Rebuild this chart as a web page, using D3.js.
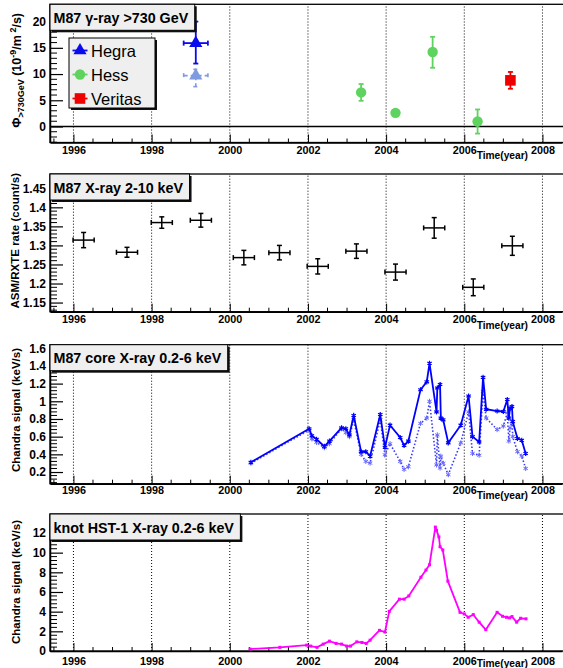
<!DOCTYPE html>
<html><head><meta charset="utf-8">
<script src="https://cdn.jsdelivr.net/npm/d3@7"></script>
<style>
body{margin:0;background:#fff;}
svg{display:block;font-family:"Liberation Sans",Arial,Helvetica,sans-serif;}
</style></head>
<body>
<svg id="c" width="563" height="668"></svg>
<script>
// ---------------- DATA ----------------
const yearTicks = [1996, 1998, 2000, 2002, 2004, 2006, 2008];

// Panel 1: M87 gamma-ray >730 GeV
const hegraX = [1999.13], hegraY = [15.9], hegraErrUp = [4.1], hegraErrDn = [3.9], hegraXErr = [0.31];
const hegraAltX = [1999.13], hegraAltY = [9.7], hegraAltErrUp = [1.2], hegraAltErrDn = [2.1], hegraAltXErr = [0.31];
const hessX = [2003.36, 2004.24, 2005.19, 2006.34];
const hessY = [6.5, 2.6, 14.2, 0.95];
const hessErrUp = [1.6, 0.4, 2.9, 2.3];
const hessErrDn = [1.6, 0.4, 3.0, 2.3];
const veritasX = [2007.18], veritasY = [8.8], veritasErr = [1.6];
const p1Ticks = [0, 5, 10, 15, 20];
const legendLabels = ["Hegra", "Hess", "Veritas"];

// Panel 2: ASM/RXTE 2-10 keV
const asmX = [1996.26, 1997.37, 1998.26, 1999.26, 2000.36, 2001.27, 2002.25, 2003.24, 2004.24, 2005.23, 2006.23, 2007.23];
const asmY = [1.314, 1.282, 1.360, 1.366, 1.268, 1.281, 1.245, 1.285, 1.230, 1.346, 1.190, 1.299];
const asmErr = [0.020, 0.013, 0.015, 0.018, 0.019, 0.019, 0.020, 0.019, 0.021, 0.027, 0.022, 0.025];
const asmXErr = 0.27;
const p2Ticks = [1.15, 1.2, 1.25, 1.3, 1.35, 1.4, 1.45];

// Panel 3: Chandra core 0.2-6 keV (solid and dotted series)
const coreX = [2000.54, 2002.03, 2002.10, 2002.22, 2002.42, 2002.55, 2002.86, 2002.97, 2003.06, 2003.17, 2003.36, 2003.48, 2003.59, 2003.85, 2003.97, 2004.10, 2004.36, 2004.46, 2004.57, 2004.88, 2005.04, 2005.11, 2005.29, 2005.31, 2005.38, 2005.40, 2005.46, 2005.59, 2005.91, 2006.11, 2006.21, 2006.38, 2006.48, 2006.56, 2006.84, 2007.00, 2007.10, 2007.14, 2007.17, 2007.22, 2007.24, 2007.36, 2007.47, 2007.57];
const coreSolid = [0.31, 0.69, 0.61, 0.57, 0.49, 0.55, 0.70, 0.69, 0.62, 0.84, 0.43, 0.43, 0.38, 0.85, 0.48, 0.73, 0.59, 0.50, 0.55, 1.13, 1.22, 1.43, 0.88, 1.15, 1.19, 0.81, 0.79, 0.53, 0.73, 1.06, 0.60, 0.54, 1.27, 0.91, 0.89, 0.885, 1.02, 0.81, 0.92, 0.94, 0.77, 0.58, 0.56, 0.41];
const coreDotted = [0.30, 0.675, 0.575, 0.535, 0.475, 0.52, 0.69, 0.645, 0.60, 0.79, 0.40, 0.32, 0.30, 0.79, 0.395, 0.52, 0.32, 0.23, 0.26, 0.75, 0.81, 1.00, 0.28, 0.62, 0.245, 0.38, 0.30, 0.17, 0.53, 0.88, 0.41, 0.39, 1.11, 0.81, 0.68, 0.72, 0.87, 0.55, 0.70, 0.77, 0.60, 0.43, 0.38, 0.24];
const p3Ticks = [0.2, 0.4, 0.6, 0.8, 1, 1.2, 1.4, 1.6];

// Panel 4: knot HST-1 0.2-6 keV
const hstX = [2000.52, 2001.28, 2001.97, 2002.07, 2002.23, 2002.39, 2002.55, 2002.72, 2002.86, 2002.99, 2003.09, 2003.25, 2003.38, 2003.49, 2003.59, 2003.83, 2003.97, 2004.08, 2004.34, 2004.46, 2004.58, 2004.89, 2005.02, 2005.11, 2005.26, 2005.29, 2005.35, 2005.38, 2005.45, 2005.58, 2005.89, 2006.00, 2006.10, 2006.23, 2006.38, 2006.55, 2006.84, 2006.98, 2007.08, 2007.16, 2007.22, 2007.34, 2007.44, 2007.58];
const hstY = [0.2, 0.37, 0.6, 0.5, 0.37, 0.7, 1.0, 0.77, 0.7, 0.5, 0.5, 0.93, 0.87, 0.77, 1.1, 2.1, 1.93, 4.03, 5.27, 5.27, 5.6, 7.5, 8.23, 8.77, 12.6, 12.27, 11.6, 10.6, 10.27, 7.1, 3.93, 3.77, 3.43, 3.7, 2.93, 2.17, 3.93, 3.53, 3.43, 3.37, 3.5, 2.93, 3.33, 3.27];
const p4Ticks = [0, 2, 4, 6, 8, 10, 12];

// ---------------- LAYOUT ----------------
const svg = d3.select("#c");
const FONT = '"Liberation Sans",Arial,Helvetica,sans-serif';
const x = d3.scaleLinear().domain([1995.4, 2008.5]).range([50, 562]);

const panels = [
  {top: 4.3, bottom: 142.5, dom: [-3.05, 23.3], ticks: p1Ticks, minorStep: 1, fmt: d3.format("d"), title: "M87 \u03b3-ray >730 GeV", lblOff: 7, timeOff: 12.5, yTitleX: 18, yTitleEnd: 13},
  {top: 174, bottom: 311.7, dom: [1.126, 1.4875], ticks: p2Ticks, minorStep: 0.01, fmt: d => d3.format(".2~f")(d), title: "M87 X-ray 2-10 keV", lblOff: 7.5, timeOff: 13.3, yTitleX: 16, yTitleEnd: 173, yTitle: "ASM/RXTE rate (count/s)"},
  {top: 344.7, bottom: 483.7, dom: [0.068, 1.64], ticks: p3Ticks, minorStep: 0.04, fmt: d => d3.format(".1~f")(d), title: "M87 core X-ray 0.2-6 keV", lblOff: 6.5, timeOff: 11.5, yTitleX: 17, yTitleEnd: 348, yTitle: "Chandra signal (keV/s)"},
  {top: 514, bottom: 651, dom: [0, 13.93], ticks: p4Ticks, minorStep: 0.4, fmt: d3.format("d"), title: "knot HST-1 X-ray 0.2-6 keV", lblOff: 9.5, timeOff: 12.8, yTitleX: 17, yTitleEnd: 520, yTitle: "Chandra signal (keV/s)"}
];

function drawPanel(p) {
  const y = d3.scaleLinear().domain(p.dom).range([p.bottom, p.top]);
  const g = svg.append("g");
  // grid
  g.selectAll("line.grid").data(yearTicks).join("line")
    .attr("x1", d => x(d)).attr("x2", d => x(d))
    .attr("y1", p.bottom).attr("y2", p.top)
    .attr("stroke", "#000").attr("stroke-width", 1).attr("stroke-dasharray", "1,2");
  // frame (right side runs past the picture edge)
  g.append("rect").attr("x", 50).attr("y", p.top).attr("width", 520).attr("height", p.bottom - p.top)
    .attr("fill", "none").attr("stroke", "#000").attr("stroke-width", 1.3);
  // minor y ticks
  const minors = d3.range(Math.ceil(p.dom[0] / p.minorStep) * p.minorStep, p.dom[1], p.minorStep)
    .map(v => +v.toFixed(4)).filter(v => !p.ticks.some(t => Math.abs(t - v) < 1e-6));
  g.selectAll("line.ymin").data(minors).join("line")
    .attr("x1", 50).attr("x2", 57).attr("y1", d => y(d)).attr("y2", d => y(d))
    .attr("stroke", "#000").attr("stroke-width", 1);
  // major y axis
  const ya = g.append("g").attr("transform", "translate(50,0)")
    .call(d3.axisLeft(y).tickValues(p.ticks).tickSizeInner(-13).tickSizeOuter(0).tickPadding(4).tickFormat(p.fmt));
  ya.select(".domain").attr("stroke-width", 1.5);
  ya.selectAll(".tick line").attr("stroke-width", 1.2);
  ya.selectAll("text").attr("font-family", FONT).attr("font-weight", "bold").attr("font-size", 12).attr("fill", "#000");
  // minor x ticks
  const xmin = d3.range(1995.5, 2008.5, 0.5).filter(v => !yearTicks.includes(v));
  g.selectAll("line.xmin").data(xmin).join("line")
    .attr("x1", d => x(d)).attr("x2", d => x(d)).attr("y1", p.bottom).attr("y2", p.bottom - 4)
    .attr("stroke", "#000").attr("stroke-width", 1);
  const xa = g.append("g").attr("transform", `translate(0,${p.bottom})`)
    .call(d3.axisBottom(x).tickValues(yearTicks).tickSizeInner(-8).tickSizeOuter(0).tickPadding(0).tickFormat(d3.format("d")));
  xa.select(".domain").attr("stroke-width", 1.5);
  xa.selectAll("text").attr("font-family", FONT).attr("font-weight", "bold").attr("font-size", 10.8)
    .attr("fill", "#000").attr("dy", null).attr("y", p.lblOff).attr("dominant-baseline", "central");
  g.append("text").attr("x", 528).attr("y", p.bottom + p.timeOff).attr("text-anchor", "end")
    .attr("dominant-baseline", "central")
    .attr("font-family", FONT).attr("font-weight", "bold").attr("font-size", 10.2).text("Time(year)");
  return {g, y};
}

function titleBox(p, text) {
  const g = svg.append("g");
  const t = g.append("text").attr("x", 53.5).attr("y", p.top + 18.5).attr("font-family", FONT)
    .attr("font-weight", "bold").attr("font-size", 14.3).text(text);
  const w = t.node().getComputedTextLength() + 10;
  g.insert("rect", "text").attr("x", 52).attr("y", p.top + 2).attr("width", w).attr("height", 26).attr("fill", "#111");
  g.insert("rect", "text").attr("x", 50).attr("y", p.top).attr("width", w).attr("height", 26)
    .attr("fill", "#efefef").attr("stroke", "#000").attr("stroke-width", 1);
}

function yTitle(p, text) {
  svg.append("text").attr("transform", `translate(${p.yTitleX},${p.yTitleEnd}) rotate(-90)`)
    .attr("text-anchor", "end").attr("dominant-baseline", "middle")
    .attr("font-family", FONT).attr("font-weight", "bold").attr("font-size", 11.5).text(text);
}

function errBar(g, xs, ys, up, dn, xe, y, color, width, dash) {
  const cap = 2.5;
  xs.forEach((xv, i) => {
    const cx = x(xv), cy = y(ys[i]);
    const yt = y(ys[i] + up[i]), yb = y(ys[i] - dn[i]);
    const xl = x(xv - xe[i]), xr = x(xv + xe[i]);
    const segs = [
      [cx, yt, cx, yb], [cx - cap, yt, cx + cap, yt], [cx - cap, yb, cx + cap, yb],
      [xl, cy, xr, cy], [xl, cy - cap, xl, cy + cap], [xr, cy - cap, xr, cy + cap]
    ];
    g.selectAll(null).data(segs).join("line")
      .attr("x1", d => d[0]).attr("y1", d => d[1]).attr("x2", d => d[2]).attr("y2", d => d[3])
      .attr("stroke", color).attr("stroke-width", width).attr("stroke-dasharray", dash || null);
  });
}

// ---------- Panel 1 ----------
{
  const p = panels[0];
  const {g, y} = drawPanel(p);
  g.append("line").attr("x1", 50).attr("x2", 570).attr("y1", y(0)).attr("y2", y(0)).attr("stroke", "#000").attr("stroke-width", 1.5);
  const blue = "#0a0aee", lblue = "#7f9be0", green = "#5fd35f", red = "#ee0000";
  errBar(g, hegraAltX, hegraAltY, hegraAltErrUp, hegraAltErrDn, hegraAltXErr, y, lblue, 1.6, "4,3");
  errBar(g, hegraX, hegraY, hegraErrUp, hegraErrDn, hegraXErr, y, blue, 1.8);
  errBar(g, hessX, hessY, hessErrUp, hessErrDn, hessX.map(() => 0), y, green, 1.8);
  errBar(g, veritasX, veritasY, veritasErr, veritasErr, veritasX.map(() => 0), y, red, 1.8);
  const tri = d3.symbol(d3.symbolTriangle, 75);
  g.selectAll(null).data(hegraAltX).join("path").attr("d", tri)
    .attr("transform", (d, i) => `translate(${x(d)},${y(hegraAltY[i])})`).attr("fill", lblue);
  g.selectAll(null).data(hegraX).join("path").attr("d", tri)
    .attr("transform", (d, i) => `translate(${x(d)},${y(hegraY[i])})`).attr("fill", blue);
  g.selectAll(null).data(hessX).join("circle").attr("cx", d => x(d)).attr("cy", (d, i) => y(hessY[i]))
    .attr("r", 5.2).attr("fill", green);
  g.selectAll(null).data(veritasX).join("rect").attr("x", d => x(d) - 5.3).attr("y", (d, i) => y(veritasY[i]) - 5.3)
    .attr("width", 10.6).attr("height", 10.6).attr("fill", red);
  titleBox(p, p.title);
  // y title with sub/superscripts
  const t = svg.append("text").attr("transform", `translate(18,13) rotate(-90)`)
    .attr("text-anchor", "end").attr("dominant-baseline", "middle")
    .attr("font-family", FONT).attr("font-weight", "bold").attr("font-size", 12.5);
  t.append("tspan").text("\u03a6");
  t.append("tspan").attr("font-size", 9).attr("dy", 3.5).text(">730GeV");
  t.append("tspan").attr("dy", -3.5).text(" (10");
  t.append("tspan").attr("font-size", 9).attr("dy", -4.5).text("-9");
  t.append("tspan").attr("dy", 4.5).text("/m");
  t.append("tspan").attr("font-size", 9).attr("dy", -4.5).text(" 2");
  t.append("tspan").attr("dy", 4.5).text("/s)");
  // legend
  const lg = svg.append("g");
  lg.append("rect").attr("x", 71).attr("y", 40).attr("width", 86).attr("height", 70).attr("fill", "#111");
  lg.append("rect").attr("x", 69).attr("y", 38).attr("width", 86).attr("height", 70)
    .attr("fill", "#efefef").attr("stroke", "#000").attr("stroke-width", 1);
  const cols = [blue, green, red];
  const ly = d3.scalePoint().domain(legendLabels).range([50.5, 98.5]);
  legendLabels.forEach((lab, i) => {
    const yy = ly(lab);
    lg.append("line").attr("x1", 72.5).attr("x2", 87.5).attr("y1", yy).attr("y2", yy).attr("stroke", cols[i]).attr("stroke-width", 1.8);
    if (i === 0) lg.append("path").attr("d", tri).attr("transform", `translate(80,${yy})`).attr("fill", cols[i]);
    if (i === 1) lg.append("circle").attr("cx", 80).attr("cy", yy).attr("r", 5.2).attr("fill", cols[i]);
    if (i === 2) lg.append("rect").attr("x", 74.7).attr("y", yy - 5.3).attr("width", 10.6).attr("height", 10.6).attr("fill", cols[i]);
    lg.append("text").attr("x", 91).attr("y", yy).attr("dominant-baseline", "central")
      .attr("font-family", FONT).attr("font-size", 16.5).text(lab);
  });
}

// ---------- Panel 2 ----------
{
  const p = panels[1];
  const {g, y} = drawPanel(p);
  errBar(g, asmX, asmY, asmErr, asmErr, asmX.map(() => asmXErr), y, "#000", 1.5);
  titleBox(p, p.title);
  yTitle(p, p.yTitle);
}

// ---------- Panel 3 ----------
{
  const p = panels[2];
  const {g, y} = drawPanel(p);
  const line = d3.line().x(d => x(d[0])).y(d => y(d[1]));
  const dotted = coreX.map((d, i) => [d, coreDotted[i]]);
  const solid = coreX.map((d, i) => [d, coreSolid[i]]);
  const star = d3.symbol(d3.symbolAsterisk || d3.symbolCross, 18);
  g.append("path").attr("d", line(dotted)).attr("fill", "none").attr("stroke", "#3a3aff")
    .attr("stroke-width", 1.6).attr("stroke-dasharray", "1.5,2");
  g.selectAll(null).data(dotted).join("path").attr("d", star)
    .attr("transform", d => `translate(${x(d[0])},${y(d[1])})`).attr("fill", "none").attr("stroke", "#6a6aff").attr("stroke-width", 1);
  g.append("path").attr("d", line(solid)).attr("fill", "none").attr("stroke", "#0000ff").attr("stroke-width", 1.8);
  g.selectAll(null).data(solid).join("path").attr("d", star)
    .attr("transform", d => `translate(${x(d[0])},${y(d[1])})`).attr("fill", "none").attr("stroke", "#0000ff").attr("stroke-width", 1.2);
  titleBox(p, p.title);
  yTitle(p, p.yTitle);
}

// ---------- Panel 4 ----------
{
  const p = panels[3];
  const {g, y} = drawPanel(p);
  const line = d3.line().x(d => x(d[0])).y(d => y(d[1]));
  const pts = hstX.map((d, i) => [d, hstY[i]]);
  g.append("path").attr("d", line(pts)).attr("fill", "none").attr("stroke", "#ff00ff").attr("stroke-width", 1.8);
  g.selectAll(null).data(pts).join("rect").attr("x", d => x(d[0]) - 1.5).attr("y", d => y(d[1]) - 1.5)
    .attr("width", 3).attr("height", 3).attr("fill", "#ff00ff");
  titleBox(p, p.title);
  yTitle(p, p.yTitle);
}
</script>
</body></html>
